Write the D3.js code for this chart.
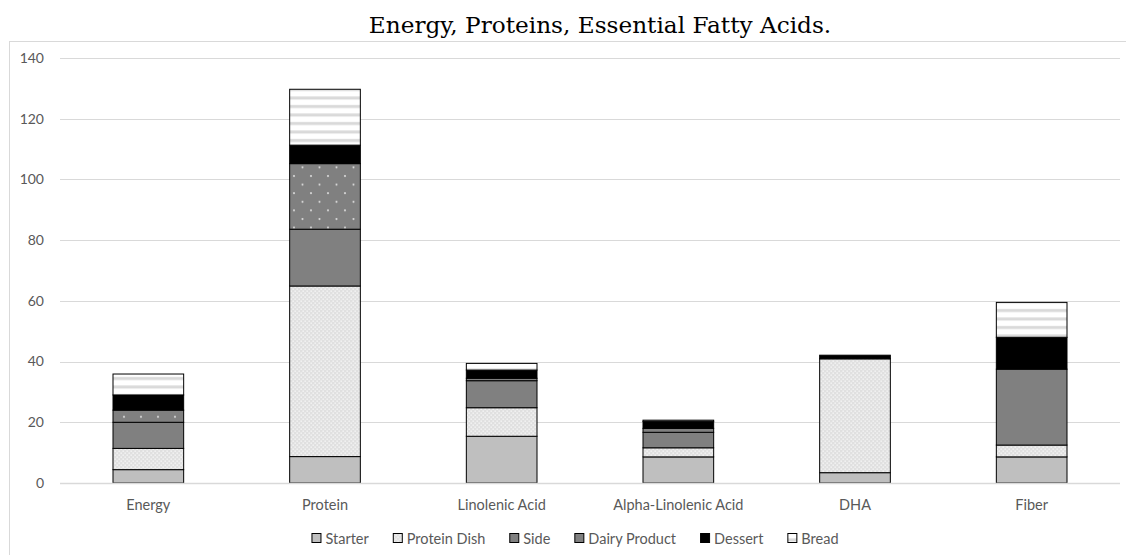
<!DOCTYPE html>
<html>
<head>
<meta charset="utf-8">
<script src="https://cdn.jsdelivr.net/npm/d3@7"></script>
<style>
  body { margin: 0; background: #fff; }
  svg { display: block; }
</style>
</head>
<body>
<svg id="chart"></svg>
<script>
var width = 1126;
var height = 555;

// categories and stacked series
var categories = ['Energy', 'Protein', 'Linolenic Acid', 'Alpha-Linolenic Acid', 'DHA', 'Fiber'];
var seriesNames = ['Starter', 'Protein Dish', 'Side', 'Dairy Product', 'Dessert', 'Bread'];
var starter     = [4.4, 8.7, 15.4, 8.6, 3.4, 8.6];
var proteinDish = [7.0, 56.2, 9.4, 3.0, 37.5, 3.9];
var side        = [8.6, 18.7, 8.9, 5.1, 0, 25.0];
var dairy       = [4.0, 21.6, 0.8, 1.3, 0, 0];
var dessert     = [5.0, 6.1, 2.7, 2.3, 1.2, 10.5];
var bread       = [6.9, 18.4, 2.2, 0.4, 0, 11.5];
var yTicks = [0, 20, 40, 60, 80, 100, 120, 140];

var values = [starter, proteinDish, side, dairy, dessert, bread];
var rows = categories.map(function (c, i) {
  var r = { cat: c };
  seriesNames.forEach(function (s, j) { r[s] = values[j][i]; });
  return r;
});

var font = 'Lato, "Open Sans", sans-serif';
var svg = d3.select('#chart').attr('width', width).attr('height', height);
var defs = svg.append('defs');

// fill patterns
var pDish = defs.append('pattern').attr('id', 'p-dish').attr('patternUnits', 'userSpaceOnUse')
  .attr('width', 4).attr('height', 4);
pDish.append('rect').attr('width', 4).attr('height', 4).attr('fill', '#e0e0e0');
pDish.append('rect').attr('x', 0.5).attr('y', 0.5).attr('width', 1.3).attr('height', 1.3).attr('fill', '#fafafa');
pDish.append('rect').attr('x', 2.5).attr('y', 2.5).attr('width', 1.3).attr('height', 1.3).attr('fill', '#fafafa');

var pDairy = defs.append('pattern').attr('id', 'p-dairy').attr('patternUnits', 'userSpaceOnUse')
  .attr('width', 17).attr('height', 17.2).attr('x', 3).attr('y', 2);
pDairy.append('rect').attr('width', 17).attr('height', 17.2).attr('fill', '#808080');
pDairy.append('circle').attr('cx', 2).attr('cy', 2).attr('r', 1.1).attr('fill', '#d9d9d9');
pDairy.append('circle').attr('cx', 10.5).attr('cy', 10.6).attr('r', 1.1).attr('fill', '#d9d9d9');

var pBread = defs.append('pattern').attr('id', 'p-bread').attr('patternUnits', 'userSpaceOnUse')
  .attr('width', 8).attr('height', 8.5);
pBread.append('rect').attr('width', 8).attr('height', 8.5).attr('fill', '#ffffff');
pBread.append('rect').attr('y', 3).attr('width', 8).attr('height', 3).attr('fill', '#d9d9d9');

var fills = {
  'Starter': '#bfbfbf',
  'Protein Dish': 'url(#p-dish)',
  'Side': '#808080',
  'Dairy Product': 'url(#p-dairy)',
  'Dessert': '#000000',
  'Bread': 'url(#p-bread)'
};

// outer frame
svg.append('rect')
  .attr('x', 9.5).attr('y', 41.5)
  .attr('width', 1130).attr('height', 530)
  .attr('fill', 'none').attr('stroke', '#d9d9d9');

var x = d3.scaleBand().domain(categories).range([60, 1120]).paddingInner(0.6).paddingOuter(0.3);
var y = d3.scaleLinear().domain([0, 140]).range([483, 58]);

// gridlines
svg.append('g').selectAll('line').data(yTicks.filter(function (t) { return t > 0; }))
  .enter().append('line')
  .attr('x1', 60).attr('x2', 1120)
  .attr('y1', function (d) { return Math.round(y(d)) + 0.5; })
  .attr('y2', function (d) { return Math.round(y(d)) + 0.5; })
  .attr('stroke', '#d9d9d9');

// y tick labels
svg.append('g').selectAll('text').data(yTicks)
  .enter().append('text')
  .attr('x', 44).attr('y', function (d) { return y(d); })
  .attr('dy', '0.35em').attr('text-anchor', 'end')
  .attr('font-family', font).attr('font-size', 14)
  .attr('fill', '#595959')
  .text(function (d) { return d; });

// stacked bars
var series = d3.stack().keys(seriesNames)(rows);
svg.append('g').selectAll('g').data(series)
  .enter().append('g')
  .attr('fill', function (s) { return fills[s.key]; })
  .selectAll('rect').data(function (s) { return s; })
  .enter().append('rect')
  .filter(function (d) { return d[1] - d[0] > 0; })
  .attr('x', function (d) { return x(d.data.cat); })
  .attr('width', x.bandwidth())
  .attr('y', function (d) { return y(d[1]); })
  .attr('height', function (d) { return y(d[0]) - y(d[1]); })
  .attr('stroke', '#000').attr('stroke-width', 1);

// baseline
svg.append('line')
  .attr('x1', 60).attr('x2', 1120).attr('y1', 483.5).attr('y2', 483.5)
  .attr('stroke', '#d9d9d9').attr('stroke-width', 1.5);

// x labels
svg.append('g').selectAll('text').data(categories)
  .enter().append('text')
  .attr('x', function (d) { return x(d) + x.bandwidth() / 2; })
  .attr('y', 510).attr('text-anchor', 'middle')
  .attr('font-family', font).attr('font-size', 14.5)
  .attr('fill', '#595959')
  .text(function (d) { return d; });

// title
svg.append('text')
  .attr('x', 600).attr('y', 33).attr('text-anchor', 'middle')
  .attr('font-family', '"DejaVu Serif", serif').attr('font-size', 23.2)
  .attr('fill', '#000')
  .text('Energy, Proteins, Essential Fatty Acids.');

// legend
var legend = svg.append('g');
var lx = 0;
var gap = 24;
seriesNames.forEach(function (s) {
  var g = legend.append('g').attr('transform', 'translate(' + lx + ',0)');
  g.append('rect').attr('x', 0.5).attr('y', -10.5).attr('width', 9).attr('height', 9)
    .attr('fill', fills[s]).attr('stroke', '#000');
  var t = g.append('text').attr('x', 14).attr('y', 0)
    .attr('font-family', font).attr('font-size', 14.5)
    .attr('fill', '#595959').text(s);
  lx += 14 + t.node().getComputedTextLength() + gap;
});
legend.attr('transform', 'translate(' + (575 - (lx - gap) / 2) + ',544)');
</script>
</body>
</html>
